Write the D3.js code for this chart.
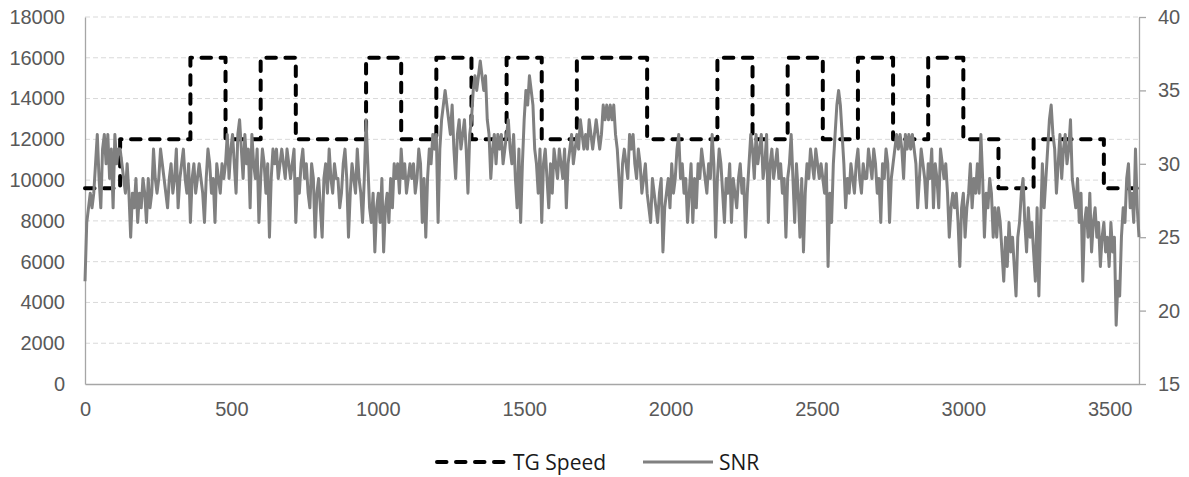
<!DOCTYPE html>
<html>
<head>
<meta charset="utf-8">
<script src="https://cdn.jsdelivr.net/npm/d3@7"></script>
<style>
  body { margin: 0; background: #fff; }
  svg { display: block; }
</style>
</head>
<body>
<div id="chart"></div>
<script>
// x ticks / axis ticks
const xTicks = [0, 500, 1000, 1500, 2000, 2500, 3000, 3500];
const leftTicks = [0, 2000, 4000, 6000, 8000, 10000, 12000, 14000, 16000, 18000];
const rightTicks = [15, 20, 25, 30, 35, 40];

// TG Speed: one value per 120 s block
const tgBlock = 120;
const tgSpeed = [
  9600, 12000, 12000, 16000, 12000, 16000, 12000, 12000, 16000, 12000,
  16000, 12000, 16000, 12000, 16000, 16000, 12000, 12000, 16000, 12000,
  16000, 12000, 16000, 12000, 16000, 12000, 9600, 12000, 12000, 9600
];

// SNR (dB), every 6 s
const snrStep = 6;
const snr = [
  22,26,27,28,27,28,30,32,29,27,31,32,30,32,29,31,27,32,30,31,
  31,30,29,28,30,28,25,28,27,29,26,28,27,29,28,26,29,27,28,31,
  29,28,29,31,30,29,28,27,29,30,28,29,31,27,29,30,31,29,28,30,
  26,29,30,28,29,30,29,28,26,29,31,30,28,29,26,30,29,28,30,29,
  30,32,29,31,32,30,28,32,33,31,29,32,30,31,27,32,30,29,31,26,
  29,31,30,28,30,25,29,31,30,31,29,30,31,30,29,31,30,29,30,31,
  26,29,28,30,31,29,30,28,27,30,29,25,28,29,27,25,29,30,28,31,
  29,28,30,29,29,27,28,30,31,29,25,28,30,29,28,31,29,28,26,29,
  33,30,27,26,28,24,27,28,26,29,24,27,28,26,29,27,30,29,30,28,
  31,29,30,28,29,30,29,30,28,29,31,30,26,29,25,29,31,30,32,31,
  32,26,31,33,34,35,34,33,32,34,31,29,32,33,31,32,33,31,28,32,
  33,35,36,35,36,37,36,35,36,33,32,29,31,32,30,32,31,32,30,31,
  32,33,31,30,32,29,27,31,26,30,33,35,34,36,35,34,31,30,28,31,
  26,30,31,29,27,30,28,31,30,29,31,30,29,31,27,30,31,32,30,31,
  32,31,33,32,31,32,31,33,32,31,32,33,32,31,32,34,33,34,33,34,
  33,34,32,31,29,27,30,31,30,29,32,31,32,30,29,31,30,28,29,30,
  28,27,26,29,28,27,26,28,29,24,27,28,29,27,30,28,29,31,32,29,
  30,28,29,26,28,30,26,29,27,30,29,31,30,29,28,30,29,32,30,25,
  29,31,30,28,26,29,28,30,26,29,28,27,29,30,28,29,25,28,30,32,
  31,29,32,30,31,32,29,30,32,26,30,31,29,30,31,29,30,28,29,25,
  29,30,32,29,26,30,28,25,29,24,28,30,29,31,30,29,31,30,29,30,
  29,28,30,23,28,26,30,32,34,35,34,32,30,27,29,28,30,29,28,30,
  31,29,28,30,29,29,31,30,29,31,30,28,29,26,30,29,31,30,26,29,
  30,31,32,31,32,31,29,32,31,32,31,32,31,30,27,29,31,30,29,27,
  30,29,31,27,30,29,27,31,30,29,30,28,25,27,28,27,28,26,23,27,
  28,25,27,28,30,27,29,28,30,28,32,29,25,28,27,29,28,25,27,25,
  27,26,24,22,25,23,26,24,25,23,21,25,26,28,29,26,24,27,25,26,
  24,22,27,21,26,30,27,29,31,33,34,32,31,28,30,32,29,31,32,30,
  31,33,29,28,27,29,26,28,22,26,27,25,28,24,26,27,25,26,23,25,
  26,24,25,23,26,24,25,19,22,21,25,27,26,29,30,27,28,26,31,27,
  25
];

const W = 1189, H = 477;
const m = { top: 17, right: 50, bottom: 93, left: 85 };
const axisFont = "'Liberation Sans', Arial, sans-serif";
const legendFont = "'Open Sans', 'Noto Sans', sans-serif";

const svg = d3.select("#chart").append("svg")
  .attr("width", W)
  .attr("height", H);

const x = d3.scaleLinear().domain([0, 3600]).range([m.left, W - m.right]);
const yL = d3.scaleLinear().domain([0, 18000]).range([H - m.bottom, m.top]);
const yR = d3.scaleLinear().domain([15, 40]).range([H - m.bottom, m.top]);

// gridlines
svg.append("g")
  .selectAll("line")
  .data(leftTicks.filter(d => d > 0))
  .join("line")
  .attr("x1", m.left).attr("x2", W - m.right)
  .attr("y1", d => yL(d)).attr("y2", d => yL(d))
  .attr("stroke", "#d9d9d9")
  .attr("stroke-width", 1)
  .attr("stroke-dasharray", "5,3");

// axes
const styleAxis = g => {
  g.attr("font-family", axisFont).attr("font-size", 20);
  g.selectAll("text").attr("fill", "#595959");
  g.selectAll(".domain").attr("stroke", "#a6a6a6").attr("stroke-width", 1.3);
  g.selectAll(".tick line").attr("stroke", "#a6a6a6").attr("stroke-width", 1.3);
};

svg.append("g")
  .attr("transform", `translate(${m.left},0)`)
  .call(d3.axisLeft(yL).tickValues(leftTicks).tickSize(0).tickPadding(20).tickFormat(d3.format("d")))
  .call(styleAxis);

svg.append("g")
  .attr("transform", `translate(0,${H - m.bottom})`)
  .call(d3.axisBottom(x).tickValues(xTicks).tickSize(0).tickPadding(18).tickFormat(d3.format("d")))
  .call(styleAxis);

svg.append("g")
  .attr("transform", `translate(${W - m.right},0)`)
  .call(d3.axisRight(yR).tickValues(rightTicks).tickSizeInner(7).tickSizeOuter(0).tickPadding(12))
  .call(styleAxis);

// TG Speed step line
const tgPts = tgSpeed.map((v, i) => [i * tgBlock, v]);
tgPts.push([tgSpeed.length * tgBlock, tgSpeed[tgSpeed.length - 1]]);

svg.append("path")
  .datum(tgPts)
  .attr("fill", "none")
  .attr("stroke", "#000")
  .attr("stroke-width", 4)
  .attr("stroke-linecap", "round")
  .attr("stroke-linejoin", "round")
  .attr("stroke-dasharray", "9.5,9.5")
  .attr("d", d3.line().x(d => x(d[0])).y(d => yL(d[1])).curve(d3.curveStepAfter));

// SNR line (secondary axis)
svg.append("path")
  .datum(snr)
  .attr("fill", "none")
  .attr("stroke", "#808080")
  .attr("stroke-width", 3)
  .attr("stroke-linejoin", "round")
  .attr("d", d3.line().x((d, i) => x(i * snrStep)).y(d => yR(d)));

// legend
const leg = svg.append("g").attr("font-family", legendFont).attr("font-size", 21).attr("fill", "#1a1a1a");
const legY = 462;
leg.append("line")
  .attr("x1", 437).attr("x2", 506).attr("y1", legY).attr("y2", legY)
  .attr("stroke", "#000").attr("stroke-width", 4)
  .attr("stroke-linecap", "round").attr("stroke-dasharray", "9.5,9.5");
leg.append("text").attr("x", 513).attr("y", legY + 7.5).text("TG Speed");
leg.append("line")
  .attr("x1", 643).attr("x2", 713).attr("y1", legY).attr("y2", legY)
  .attr("stroke", "#808080").attr("stroke-width", 3);
leg.append("text").attr("x", 719).attr("y", legY + 7.5).text("SNR");
</script>
</body>
</html>
